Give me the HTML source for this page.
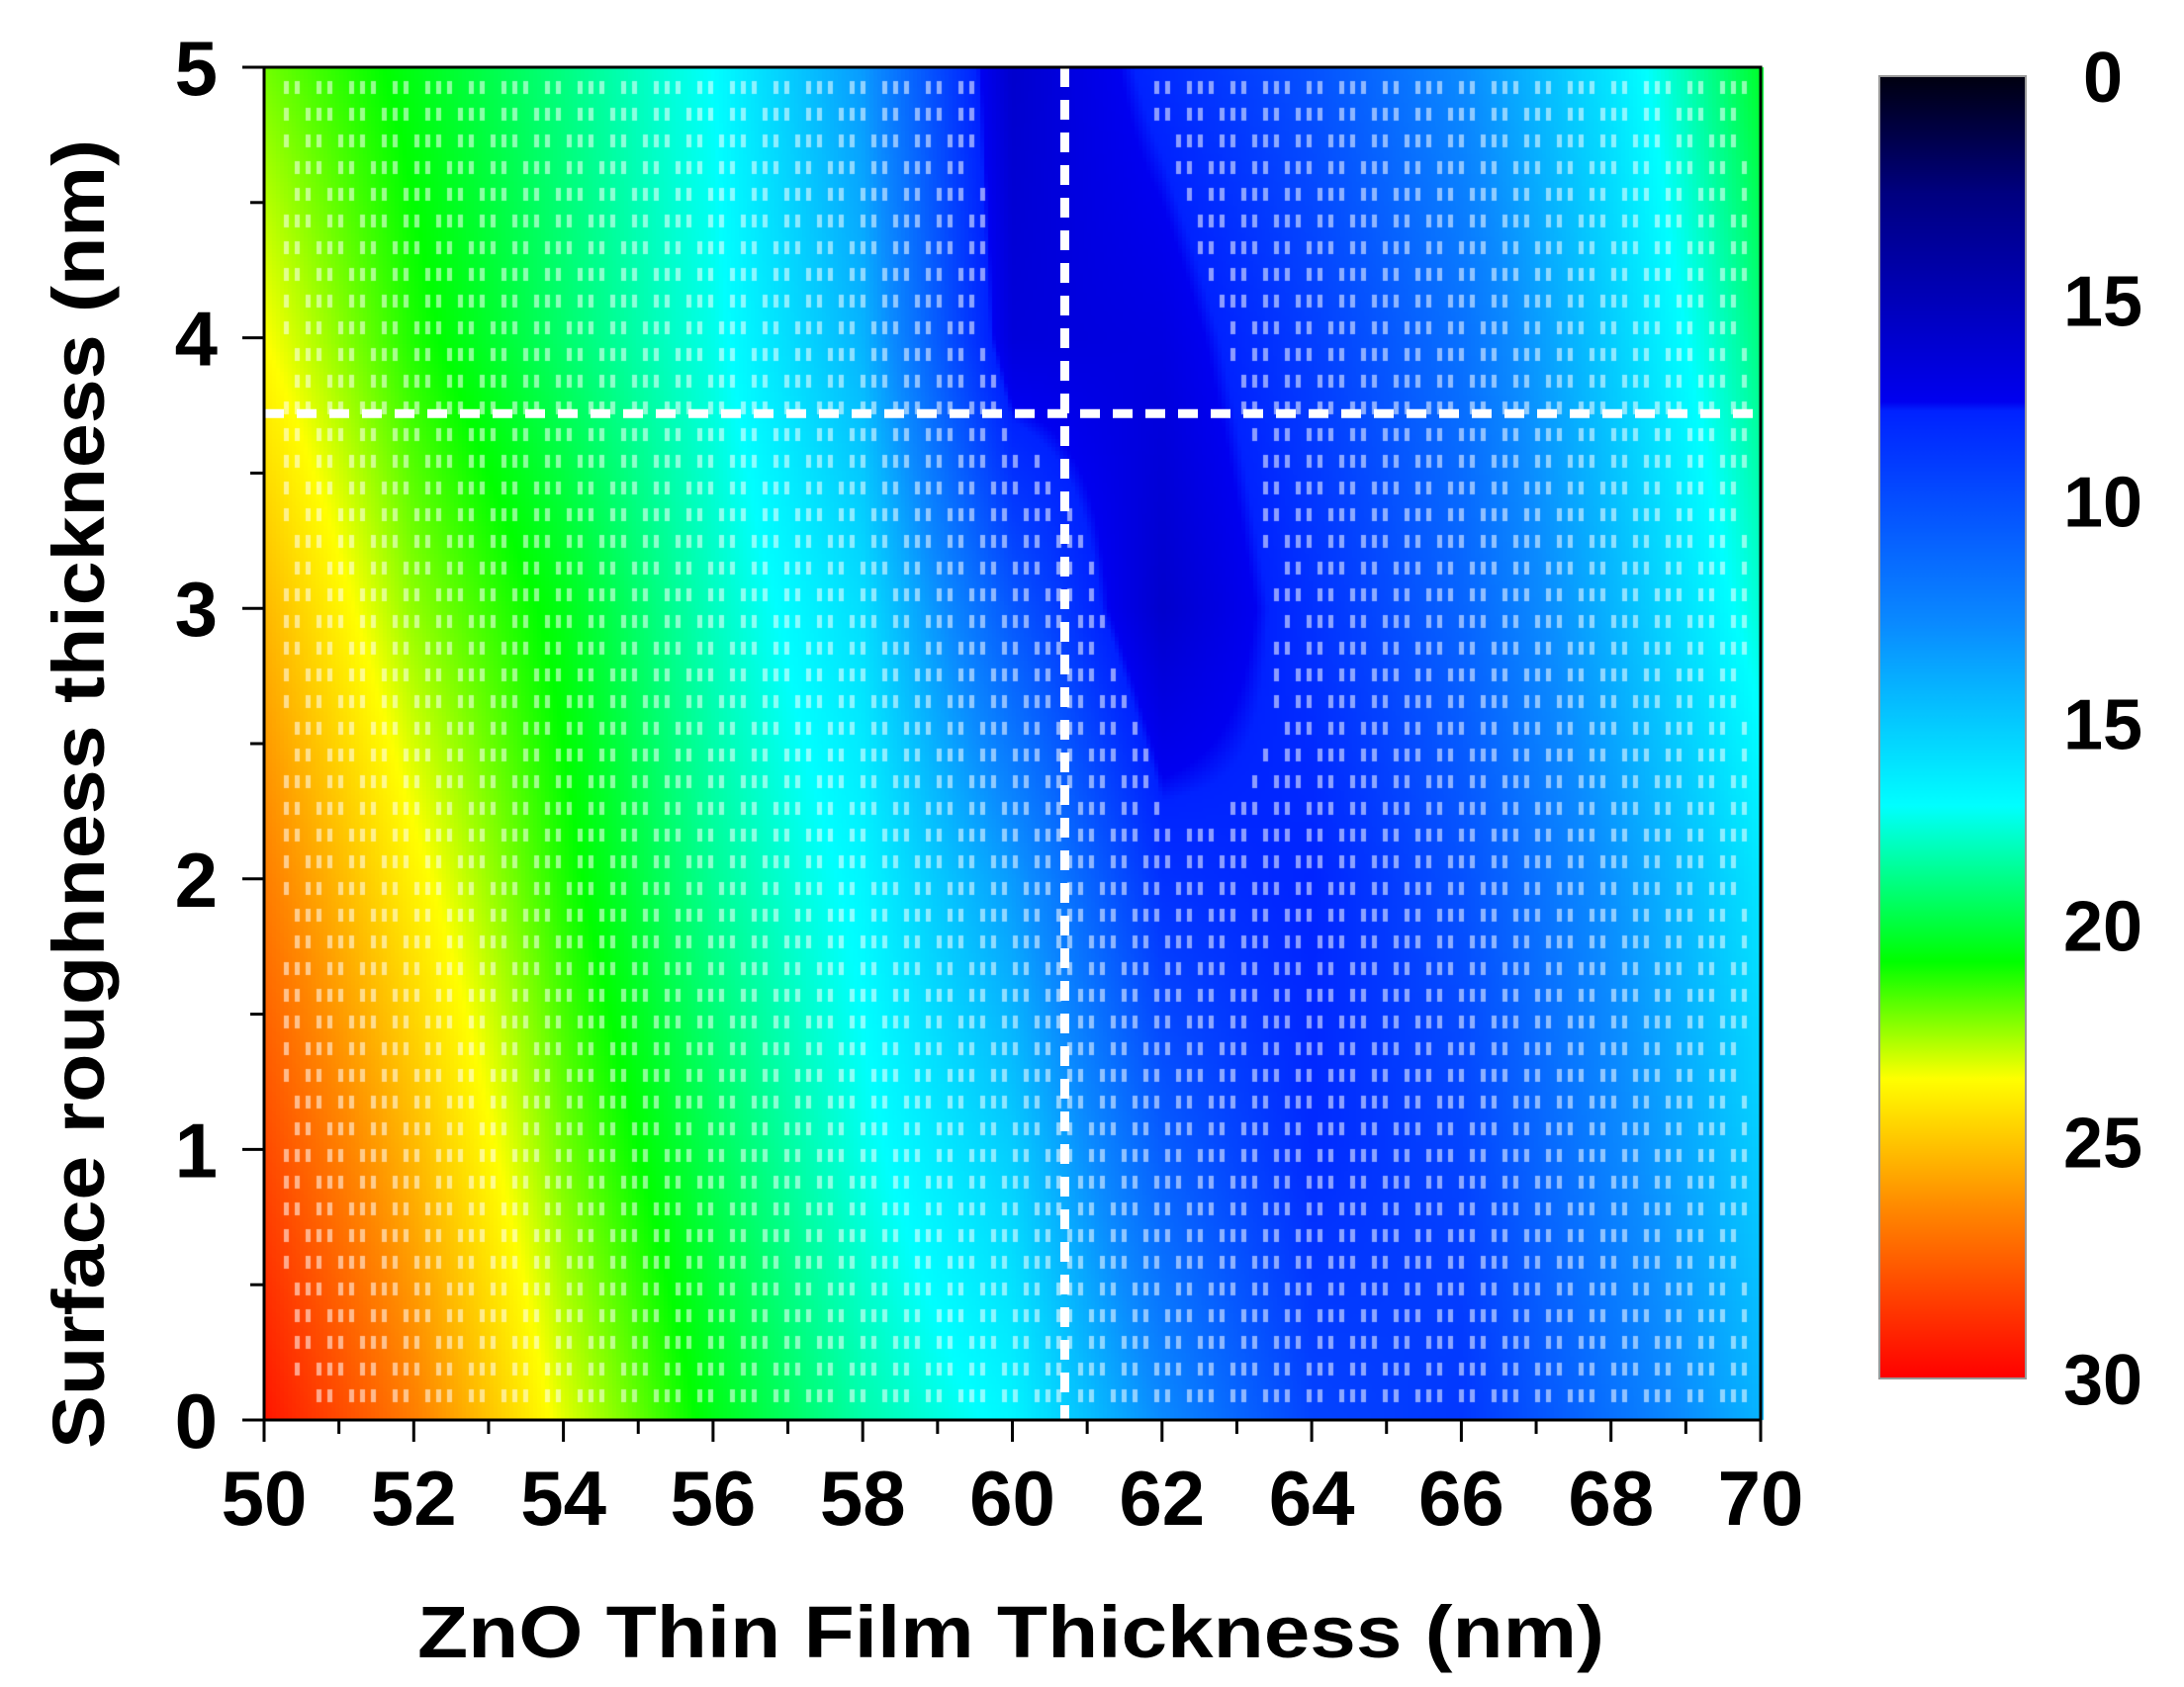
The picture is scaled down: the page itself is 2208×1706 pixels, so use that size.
<!DOCTYPE html>
<html><head><meta charset="utf-8"><style>
html,body{margin:0;padding:0;background:#fff;}
#wrap{position:relative;width:2208px;height:1706px;overflow:hidden;}
canvas,svg{position:absolute;left:0;top:0;}
text{font-family:"Liberation Sans",Arial,sans-serif;font-weight:bold;fill:#000;}
</style></head><body>
<div id="wrap">
<canvas id="heat" width="2208" height="1706"></canvas>
<svg id="svg" width="2208" height="1706"></svg>
</div>
<script>
// data: normalized colormap position (0=top/black, 1=bottom/red) sampled on grid
const xGrid = [50,52,54,56,58,60,62,64,66,68,70];
const yGrid = [0,1,2,3,4,5];
const row0 = [0.98,0.88,0.76,0.67,0.60,0.55,0.42,0.31,0.29,0.38,0.47];
const row1 = [0.93,0.83,0.72,0.64,0.57,0.50,0.35,0.27,0.31,0.41,0.50];
const row2 = [0.88,0.78,0.69,0.61,0.55,0.44,0.28,0.26,0.33,0.43,0.53];
const row3 = [0.83,0.73,0.67,0.59,0.52,0.34,0.20,0.28,0.36,0.47,0.58];
const row4 = [0.77,0.69,0.63,0.57,0.47,0.22,0.23,0.30,0.38,0.50,0.62];
const row5 = [0.72,0.67,0.62,0.56,0.44,0.20,0.27,0.33,0.42,0.53,0.66];
const xTicks = [50,52,54,56,58,60,62,64,66,68,70];
const yTicks = [0,1,2,3,4,5];
const cbLabels = ["0","15","10","15","20","25","30"];
const cbLabelPos = [0,0.172,0.326,0.497,0.652,0.818,1.0];
const optX = 60.7, optY = 3.72;

const rows=[row0,row1,row2,row3,row4,row5];
const L=267,R=1780,T=68,B=1436;
const xs=v=>L+(v-50)/20*(R-L);
const ys=v=>B-(v/5)*(B-T);
const CB={x:1900,w:148,t:77,b:1394};
const cmap=[[0,[0,0,16]],[0.09,[0,0,128]],[0.25,[0,0,240]],[0.257,[0,34,255]],[0.42,[10,138,255]],[0.56,[0,255,255]],[0.68,[0,255,0]],[0.77,[255,255,0]],[0.87,[255,136,0]],[1,[255,0,0]]];
function col(t){t=Math.max(0,Math.min(1,t));for(let i=1;i<cmap.length;i++){if(t<=cmap[i][0]){const a=cmap[i-1],b=cmap[i],f=(t-a[0])/(b[0]-a[0]);return a[1].map((c,k)=>Math.round(c+(b[1][k]-c)*f));}}return cmap[cmap.length-1][1];}
function field(x,y){let i=Math.min(xGrid.length-2,Math.max(0,Math.floor((x-50)/2)));let j=Math.min(yGrid.length-2,Math.max(0,Math.floor(y)));
const fx=(x-xGrid[i])/(xGrid[i+1]-xGrid[i]),fy=(y-yGrid[j])/(yGrid[j+1]-yGrid[j]);
const a=rows[j][i],b=rows[j][i+1],c=rows[j+1][i],d=rows[j+1][i+1];
return a*(1-fx)*(1-fy)+b*fx*(1-fy)+c*(1-fx)*fy+d*fx*fy;}
const ctx=document.getElementById('heat').getContext('2d');
const step=4;
for(let px=L;px<R;px+=step){for(let py=T;py<B;py+=step){
 const x=50+(px+step/2-L)/(R-L)*20,y=(B-py-step/2)/(B-T)*5;
 const c=col(field(x,y));ctx.fillStyle=`rgb(${c[0]},${c[1]},${c[2]})`;ctx.fillRect(px,py,step,step);}}
// white dash texture
ctx.fillStyle='rgba(255,255,255,0.55)';
for(let py=T+14;py<B-6;py+=27){let k=0;for(let px=L+20;px<R-8;px+=11){k++;
 const x=50+(px-L)/(R-L)*20,y=(B-py)/(B-T)*5;const t=field(x,y);
 if(t<0.26||t>0.95)continue;const h=((k*37+py*13)%7);if(h<2)continue;
 ctx.fillRect(px,py,5,13);}}
// colorbar
const g=ctx.createLinearGradient(0,CB.t,0,CB.b);
cmap.forEach(s=>g.addColorStop(s[0],`rgb(${s[1].join(',')})`));
ctx.fillStyle=g;ctx.fillRect(CB.x,CB.t,CB.w,CB.b-CB.t);

const svg=document.getElementById('svg');const NS='http://www.w3.org/2000/svg';
function mk(tag,attrs,parent){const e=document.createElementNS(NS,tag);for(const k in attrs)e.setAttribute(k,attrs[k]);(parent||svg).appendChild(e);return e;}
let v=mk('line',{x1:xs(optX),x2:xs(optX),y1:T,y2:B,stroke:'#fff','stroke-width':9,'stroke-dasharray':'20 13'});


let h=mk('line',{x1:L,x2:R,y1:ys(optY),y2:ys(optY),stroke:'#fff','stroke-width':9,'stroke-dasharray':'20 13'});


let fr=mk('rect',{x:L,y:T,width:R-L,height:B-T,fill:'none',stroke:'#000','stroke-width':3});


let cbf=mk('rect',{x:CB.x,y:CB.t,width:CB.w,height:CB.b-CB.t,fill:'none',stroke:'#999','stroke-width':2});


for(let m=50;m<=70;m++){const maj=xTicks.includes(m);
 let tk=mk('line',{x1:xs(m),x2:xs(m),y1:B,y2:B+(maj?22:14),stroke:'#000','stroke-width':3});
 
 }
xTicks.forEach(t=>{let e=mk('text',{x:xs(t),y:1542,'text-anchor':'middle','font-size':78});e.textContent=t;
 
 });
for(let m=0;m<=10;m++){const val=m/2,maj=m%2===0;
 let tk=mk('line',{x1:L,x2:L-(maj?22:14),y1:ys(val),y2:ys(val),stroke:'#000','stroke-width':3});
 
 }
yTicks.forEach(t=>{let e=mk('text',{x:220,y:ys(t)+28,'text-anchor':'end','font-size':78});e.textContent=t;
 
 });
cbLabels.forEach((s,i)=>{let e=mk('text',{x:2126,y:CB.t+cbLabelPos[i]*(CB.b-CB.t)+26,'text-anchor':'middle','font-size':72});e.textContent=s;
 
 });
let xt=mk('text',{x:1022,y:1676,'text-anchor':'middle','font-size':74,textLength:1200,lengthAdjust:'spacingAndGlyphs'});
xt.textContent='ZnO Thin Film Thickness (nm)';


let yt=mk('text',{x:0,y:0,'text-anchor':'middle','font-size':74,textLength:1324,lengthAdjust:'spacingAndGlyphs',transform:'translate(105,803) rotate(-90)'});
yt.textContent='Surface roughness thickness (nm)';


</script>
</body></html>
